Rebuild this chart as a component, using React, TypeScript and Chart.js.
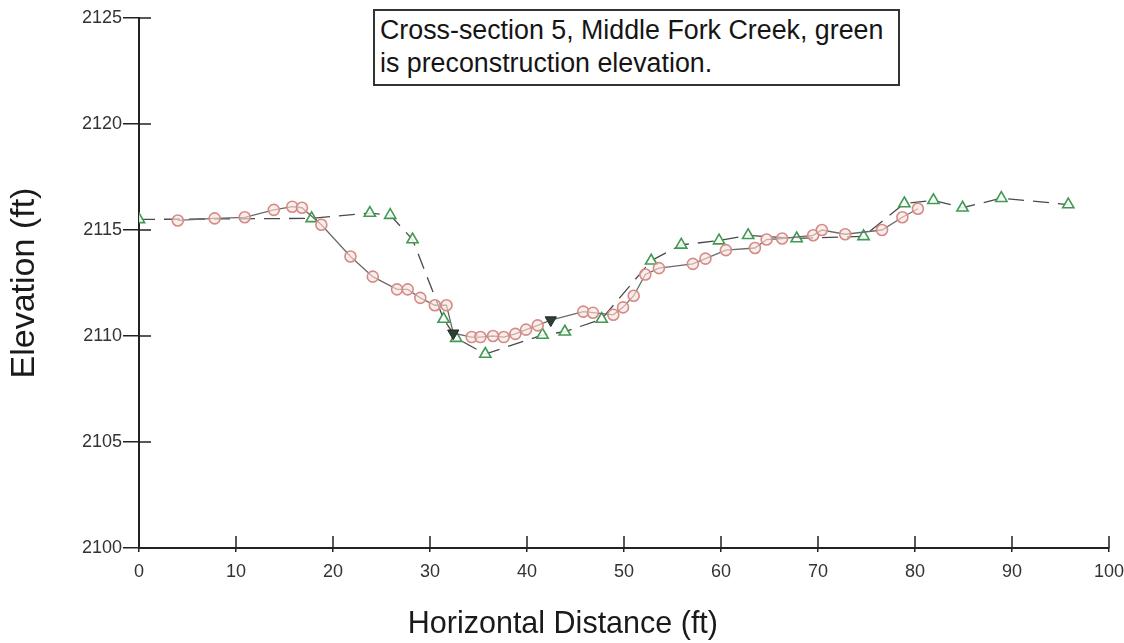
import React, { useEffect, useRef } from "react";
import { Chart, registerables } from "chart.js";

Chart.register(...registerables);

// Post-construction survey (red circles, solid line)
const postX = [4, 7.8, 10.9, 13.9, 15.8, 16.8, 18.8, 21.8, 24.1, 26.6, 27.7, 29.0, 30.5, 31.7, 32.4, 34.3, 35.2, 36.5, 37.6, 38.8, 39.9, 41.1, 42.45, 45.8, 46.8, 48.9, 49.9, 51.0, 52.2, 53.6, 57.1, 58.4, 60.5, 63.5, 64.7, 66.3, 69.5, 70.4, 72.8, 76.6, 78.7, 80.3];
const postY = [2115.45, 2115.55, 2115.6, 2115.95, 2116.1, 2116.05, 2115.25, 2113.75, 2112.8, 2112.2, 2112.2, 2111.8, 2111.45, 2111.45, 2110.13, 2109.95, 2109.95, 2110.0, 2109.95, 2110.1, 2110.3, 2110.5, 2110.75, 2111.15, 2111.1, 2111.0, 2111.35, 2111.9, 2112.9, 2113.2, 2113.4, 2113.65, 2114.05, 2114.15, 2114.55, 2114.6, 2114.75, 2115.0, 2114.8, 2115.0, 2115.6, 2116.0];

// Preconstruction survey (green triangles, dashed line)
const preX = [0, 17.8, 23.8, 25.9, 28.2, 31.4, 32.7, 35.7, 41.6, 43.9, 47.7, 52.8, 55.9, 59.8, 62.8, 67.8, 74.7, 78.9, 81.9, 84.9, 88.9, 95.8];
const preY = [2115.5, 2115.55, 2115.8, 2115.7, 2114.55, 2110.8, 2109.9, 2109.15, 2110.05, 2110.2, 2110.8, 2113.55, 2114.3, 2114.5, 2114.75, 2114.6, 2114.7, 2116.25, 2116.4, 2116.05, 2116.5, 2116.2];

// Dark markers (filled downward triangles)
const markX = [32.4, 42.45];
const markY = [2110.13, 2110.75];

const xTickValues = [0, 10, 20, 30, 40, 50, 60, 70, 80, 90, 100];
const yTickValues = [2100, 2105, 2110, 2115, 2120, 2125];

const titleLines = ["Cross-section 5, Middle Fork Creek, green", "is preconstruction elevation."];
const xTitle = "Horizontal Distance (ft)";
const yTitle = "Elevation (ft)";

const FONT = '"Liberation Sans", Arial, sans-serif';

export default function App() {
  const ref = useRef<HTMLCanvasElement | null>(null);

  useEffect(() => {
    if (!ref.current) return;
    const toPts = (xs: number[], ys: number[]) => xs.map((x, i) => ({ x, y: ys[i] }));

    const axisExtras = {
      id: "axisExtras",
      afterDraw(chart: any) {
        const { ctx, chartArea, scales } = chart;
        ctx.save();
        ctx.strokeStyle = "#222";
        ctx.lineWidth = 1.5;
        ctx.beginPath();
        scales.y.ticks.forEach((t: any) => {
          const py = scales.y.getPixelForValue(t.value);
          ctx.moveTo(chartArea.left, py);
          ctx.lineTo(chartArea.left + 12, py);
        });
        scales.x.ticks.forEach((t: any) => {
          const px = scales.x.getPixelForValue(t.value);
          ctx.moveTo(px, chartArea.bottom);
          ctx.lineTo(px, chartArea.bottom - 12);
        });
        ctx.stroke();
        ctx.fillStyle = "#1a1a1a";
        ctx.font = `30.5px ${FONT}`;
        ctx.textAlign = "center";
        ctx.textBaseline = "middle";
        const cx = chartArea.left + (chartArea.right - chartArea.left) * 0.437;
        ctx.fillText(xTitle, cx, 625);
        ctx.restore();
      },
    };

    const chart = new Chart(ref.current, {
      type: "scatter",
      data: {
        datasets: [
          {
            label: "Preconstruction",
            data: toPts(preX, preY),
            showLine: true,
            borderColor: "#4a4a4a",
            borderWidth: 1.3,
            borderDash: [16, 9],
            pointStyle: "triangle",
            pointRadius: 6.5,
            pointBorderColor: "#3f9a52",
            pointBackgroundColor: "rgba(255,255,255,0.85)",
            pointBorderWidth: 1.6,
            order: 3,
          },
          {
            label: "Post-construction",
            data: toPts(postX, postY),
            showLine: true,
            borderColor: "#6a6a6a",
            borderWidth: 1.3,
            pointStyle: "circle",
            pointRadius: (c: any) => (markX.includes(postX[c.dataIndex]) ? 0 : 5.5),
            pointBorderColor: "#d48c86",
            pointBackgroundColor: "rgba(250,225,222,0.6)",
            pointBorderWidth: 1.6,
            order: 2,
          },
          {
            label: "Markers",
            data: toPts(markX, markY),
            showLine: false,
            pointStyle: "triangle",
            rotation: 180,
            pointRadius: 6.5,
            pointBorderColor: "#1e2a22",
            pointBackgroundColor: "#2e3f34",
            pointBorderWidth: 1,
            order: 1,
          },
        ],
      },
      options: {
        responsive: false,
        animation: false,
        devicePixelRatio: 1,
        layout: { padding: { left: 0, right: 15, top: 18, bottom: 0 } },
        plugins: {
          legend: { display: false },
          tooltip: { enabled: false },
        },
        scales: {
          x: {
            type: "linear",
            min: 0,
            max: 100,
            afterFit: (s: any) => {
              s.height = 95;
              s.paddingLeft = 0;
              s.paddingRight = 0;
            },
            afterBuildTicks: (s: any) => {
              s.ticks = xTickValues.map((v) => ({ value: v }));
            },
            ticks: {
              color: "#333",
              font: { family: FONT, size: 18 },
              padding: 9,
              maxRotation: 0,
              callback: (v: any) => String(v),
            },
            grid: {
              display: true,
              drawOnChartArea: false,
              drawTicks: true,
              tickLength: 4,
              color: "#222",
              lineWidth: 1.5,
            },
            border: { display: true, color: "#222", width: 2 },
            title: { display: false, text: xTitle },
          },
          y: {
            type: "linear",
            min: 2100,
            max: 2125,
            afterFit: (s: any) => {
              s.width = 139;
              s.paddingTop = 0;
              s.paddingBottom = 0;
            },
            afterBuildTicks: (s: any) => {
              s.ticks = yTickValues.map((v) => ({ value: v }));
            },
            ticks: {
              color: "#333",
              font: { family: FONT, size: 18 },
              padding: 1,
              callback: (v: any) => String(v),
            },
            grid: {
              display: true,
              drawOnChartArea: false,
              drawTicks: true,
              tickLength: 16,
              color: "#222",
              lineWidth: 1.5,
            },
            border: { display: true, color: "#222", width: 2 },
            title: {
              display: true,
              text: yTitle,
              color: "#1a1a1a",
              font: { family: FONT, size: 34 },
              padding: { top: 4, bottom: 0 },
            },
          },
        },
      },
      plugins: [axisExtras],
    } as any);

    return () => chart.destroy();
  }, []);

  return (
    <div style={{ position: "fixed", left: 0, top: 0, width: 1124, height: 643, background: "#fff" }}>
      <canvas ref={ref} width={1124} height={643} style={{ display: "block" }} />
      <div
        style={{
          position: "absolute",
          left: 373,
          top: 9,
          width: 527,
          height: 77,
          boxSizing: "border-box",
          border: "2px solid #333",
          background: "#fff",
          fontFamily: FONT,
          fontSize: 26.8,
          lineHeight: "33px",
          padding: "3px 5px",
          color: "#151515",
          whiteSpace: "nowrap",
        }}
      >
        {titleLines.map((l, i) => (
          <div key={i}>{l}</div>
        ))}
      </div>
    </div>
  );
}
